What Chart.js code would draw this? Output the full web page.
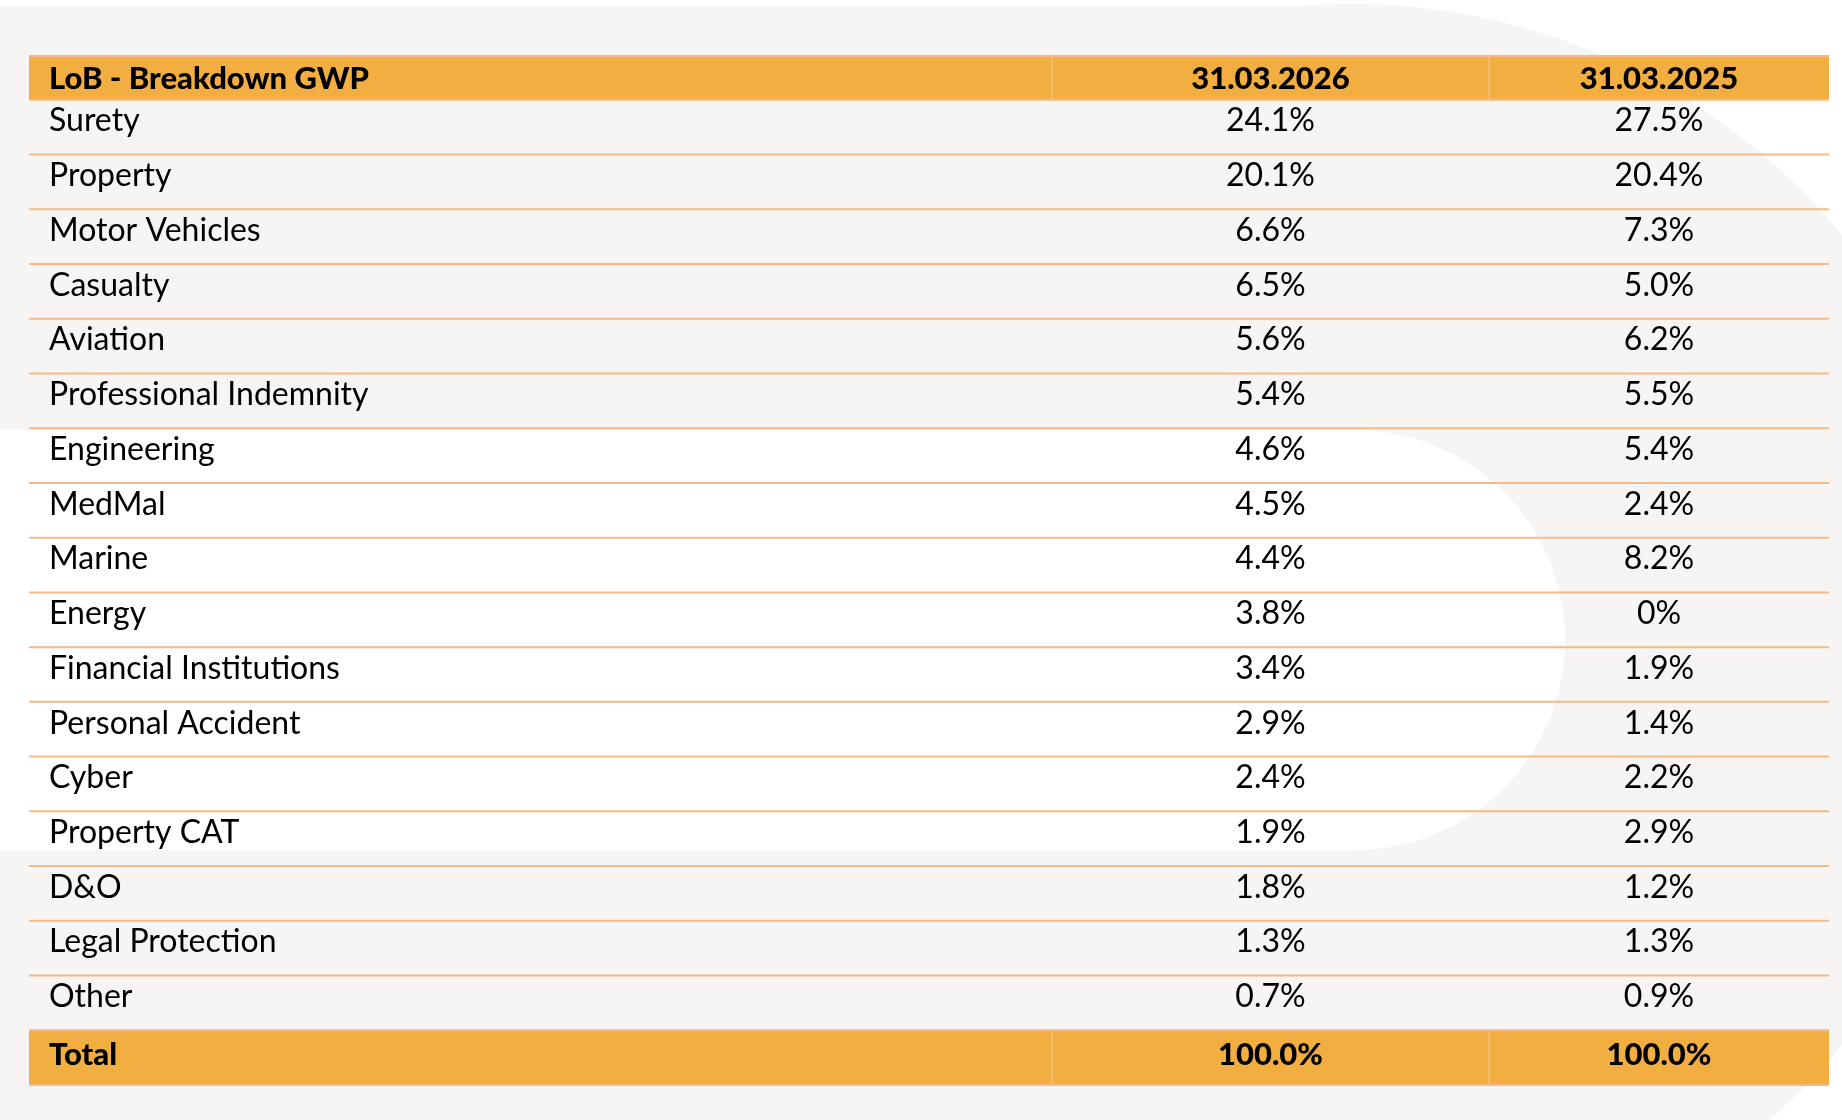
<!DOCTYPE html>
<html><head><meta charset="utf-8">
<script src="https://cdn.jsdelivr.net/npm/chart.js@4"></script>
<style>html,body{margin:0;padding:0;background:#fff;overflow:hidden}canvas{display:block}</style>
</head><body>
<canvas id="c" width="1842" height="1120"></canvas>
<script>
const headerLabels = ["LoB - Breakdown GWP", "31.03.2026", "31.03.2025"];
const categories = ["Surety","Property","Motor Vehicles","Casualty","Aviation","Professional Indemnity","Engineering","MedMal","Marine","Energy","Financial Institutions","Personal Accident","Cyber","Property CAT","D&O","Legal Protection","Other"];
const values2026 = ["24.1%","20.1%","6.6%","6.5%","5.6%","5.4%","4.6%","4.5%","4.4%","3.8%","3.4%","2.9%","2.4%","1.9%","1.8%","1.3%","0.7%"];
const values2025 = ["27.5%","20.4%","7.3%","5.0%","6.2%","5.5%","5.4%","2.4%","8.2%","0%","1.9%","1.4%","2.2%","2.9%","1.2%","1.3%","0.9%"];
const totalLabel = "Total";
const totals = ["100.0%","100.0%"];
const columnEdges = [0, 1023, 1460, 1800];

const ORANGE = "#f2ae40", LINE = "#f5b98a", GRAY = "#f6f5f3";
const nRows = categories.length + 1;

const tablePlugin = {
  id: 'table',
  beforeDraw(chart) {
    const ctx = chart.ctx, W = chart.width, H = chart.height;
    ctx.save();
    ctx.fillStyle = "#fff"; ctx.fillRect(0,0,W,H);
    ctx.fillStyle = GRAY;
    ctx.fillRect(0, 6, 1352, H);
    ctx.beginPath(); ctx.arc(1352, 640, 636, 0, Math.PI*2); ctx.fill();
    ctx.fillStyle = "#fff";
    ctx.fillRect(0, 430, 1355, 420);
    ctx.beginPath(); ctx.arc(1355, 640, 210, 0, Math.PI*2); ctx.fill();
    ctx.restore();
  },
  afterDraw(chart) {
    const ctx = chart.ctx, xs = chart.scales.x, ys = chart.scales.y;
    const px = v => xs.getPixelForValue(v);
    const L = px(columnEdges[0]), R = px(columnEdges[3]);
    const sep1 = px(columnEdges[1]), sep2 = px(columnEdges[2]);
    const c1 = px((columnEdges[1]+columnEdges[2])/2), c2 = px((columnEdges[2]+columnEdges[3])/2);
    const top = ys.getPixelForValue(-0.8), y0 = ys.getPixelForValue(0);
    const rowTop = i => ys.getPixelForValue(i), rowBot = i => ys.getPixelForValue(i+1);
    ctx.save();
    ctx.fillStyle = ORANGE;
    ctx.fillRect(L, top, R-L, y0-top);
    ctx.fillRect(L, rowTop(nRows-1), R-L, rowBot(nRows-1)-rowTop(nRows-1));
    ctx.strokeStyle = "rgba(245,200,150,0.7)"; ctx.lineWidth = 1.5;
    [sep1, sep2].forEach(x => {
      ctx.beginPath(); ctx.moveTo(x, top); ctx.lineTo(x, y0); ctx.stroke();
      ctx.beginPath(); ctx.moveTo(x, rowTop(nRows-1)); ctx.lineTo(x, rowBot(nRows-1)); ctx.stroke();
    });
    ctx.strokeStyle = LINE; ctx.lineWidth = 2;
    for (let i = -1; i <= nRows; i++) {
      const y = i < 0 ? top : ys.getPixelForValue(i);
      ctx.beginPath(); ctx.moveTo(L, y); ctx.lineTo(R, y); ctx.stroke();
    }
    ctx.fillStyle = "#000"; ctx.textBaseline = "middle";
    const tx = L + 20;
    ctx.font = "900 31px Lato";
    const hy = (top + y0)/2 + 1;
    ctx.textAlign = "left"; ctx.fillText(headerLabels[0], tx, hy);
    ctx.textAlign = "center"; ctx.fillText(headerLabels[1], c1, hy); ctx.fillText(headerLabels[2], c2, hy);
    ctx.font = "32px Lato";
    categories.forEach((cat, i) => {
      const y = (rowTop(i) + rowBot(i))/2 - 6;
      ctx.textAlign = "left"; ctx.fillText(cat, tx, y);
      ctx.textAlign = "center"; ctx.fillText(values2026[i], c1, y); ctx.fillText(values2025[i], c2, y);
    });
    const ty = (rowTop(nRows-1) + rowBot(nRows-1))/2 - 3;
    ctx.font = "900 31px Lato";
    ctx.textAlign = "left"; ctx.fillText(totalLabel, tx, ty);
    ctx.textAlign = "center"; ctx.fillText(totals[0], c1, ty); ctx.fillText(totals[1], c2, ty);
    ctx.restore();
  }
};

new Chart(document.getElementById('c'), {
  type: 'scatter',
  data: { datasets: [] },
  options: {
    responsive: false, animation: false,
    layout: { padding: { left: 29, right: 13, top: 56, bottom: 35 } },
    plugins: { legend: { display: false }, tooltip: { enabled: false } },
    scales: {
      x: { type: 'linear', display: false, offset: false, min: columnEdges[0], max: columnEdges[3] },
      y: { type: 'linear', display: false, offset: false, min: -0.8, max: nRows, reverse: true }
    }
  },
  plugins: [tablePlugin]
});
</script>
</body></html>
